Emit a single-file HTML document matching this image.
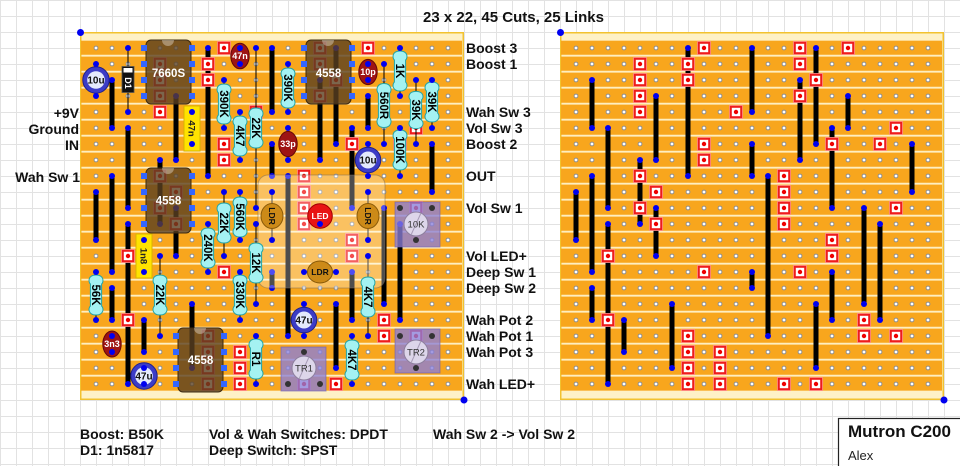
<!DOCTYPE html>
<html><head><meta charset="utf-8"><style>html,body{margin:0;padding:0;background:#fff}svg{display:block;font-family:"Liberation Sans",Arial,sans-serif}</style></head><body>
<svg xmlns="http://www.w3.org/2000/svg" width="960" height="466" viewBox="0 0 960 466">
<defs>
<pattern id="gp" width="16" height="16" patternUnits="userSpaceOnUse"><path d="M0.5 0V16M0 0.5H16" stroke="#e2e2e2" stroke-width="1" fill="none"/></pattern>
<pattern id="st" x="0" y="40.6" width="16" height="16" patternUnits="userSpaceOnUse"><rect width="16" height="14.2" fill="#f8a61d"/></pattern>
<pattern id="ho" x="88" y="40" width="16" height="16" patternUnits="userSpaceOnUse"><circle cx="8" cy="8" r="1.9" fill="#fff" stroke="#8f8f8f" stroke-width="1"/></pattern>
<g id="cut"><rect x="-6.5" y="-6.5" width="13" height="13" fill="#ee1c1c" stroke="#ff8a8a" stroke-width="0.8"/><rect x="-4.2" y="-4.2" width="8.4" height="8.4" fill="#fff"/><circle r="2.2" fill="#e00"/></g>
<path id="res" d="M-5.6,-11 C-8,-13 -8,-20 0,-20 C8,-20 8,-13 5.6,-11 L5.6,11 C8,13 8,20 0,20 C-8,20 -8,13 -5.6,11 Z" fill="#a4f2f2" stroke="#22a3a6" stroke-width="1"/>
<g id="lc">
<path d="M208 48V176M272 48V112M112 80V128M176 96V160M128 128V208M272 144V176M160 160V224M112 176V272M96 192V240M176 208V256M128 224V384M272 272V288M112 288V320M192 304V368M144 320V352M336 48V144M320 80V160M368 96V128M352 128V208M432 144V192M288 176V336M384 208V304M400 224V320M352 272V320M336 304V368" stroke="#000" stroke-width="5" fill="none"/>
<g fill="#0000f0">
<circle cx="208" cy="48" r="3"/><circle cx="208" cy="176" r="3"/><circle cx="272" cy="48" r="3"/><circle cx="272" cy="112" r="3"/><circle cx="112" cy="80" r="3"/><circle cx="112" cy="128" r="3"/><circle cx="176" cy="96" r="3"/><circle cx="176" cy="160" r="3"/><circle cx="128" cy="128" r="3"/><circle cx="128" cy="208" r="3"/><circle cx="272" cy="144" r="3"/><circle cx="272" cy="176" r="3"/><circle cx="160" cy="160" r="3"/><circle cx="160" cy="224" r="3"/><circle cx="112" cy="176" r="3"/><circle cx="112" cy="272" r="3"/><circle cx="96" cy="192" r="3"/><circle cx="96" cy="240" r="3"/><circle cx="176" cy="208" r="3"/><circle cx="176" cy="256" r="3"/><circle cx="128" cy="224" r="3"/><circle cx="128" cy="384" r="3"/><circle cx="272" cy="272" r="3"/><circle cx="272" cy="288" r="3"/><circle cx="112" cy="288" r="3"/><circle cx="112" cy="320" r="3"/><circle cx="192" cy="304" r="3"/><circle cx="192" cy="368" r="3"/><circle cx="144" cy="320" r="3"/><circle cx="144" cy="352" r="3"/><circle cx="336" cy="48" r="3"/><circle cx="336" cy="144" r="3"/><circle cx="320" cy="80" r="3"/><circle cx="320" cy="160" r="3"/><circle cx="368" cy="96" r="3"/><circle cx="368" cy="128" r="3"/><circle cx="352" cy="128" r="3"/><circle cx="352" cy="208" r="3"/><circle cx="432" cy="144" r="3"/><circle cx="432" cy="192" r="3"/><circle cx="288" cy="176" r="3"/><circle cx="288" cy="336" r="3"/><circle cx="384" cy="208" r="3"/><circle cx="384" cy="304" r="3"/><circle cx="400" cy="224" r="3"/><circle cx="400" cy="320" r="3"/><circle cx="352" cy="272" r="3"/><circle cx="352" cy="320" r="3"/><circle cx="336" cy="304" r="3"/><circle cx="336" cy="368" r="3"/>
</g>
<use href="#cut" x="224" y="48"/><use href="#cut" x="320" y="48"/><use href="#cut" x="368" y="48"/>
<use href="#cut" x="160" y="64"/><use href="#cut" x="208" y="64"/><use href="#cut" x="320" y="64"/>
<use href="#cut" x="160" y="80"/><use href="#cut" x="208" y="80"/><use href="#cut" x="336" y="80"/>
<use href="#cut" x="160" y="96"/><use href="#cut" x="320" y="96"/>
<use href="#cut" x="160" y="112"/><use href="#cut" x="256" y="112"/>
<use href="#cut" x="416" y="128"/>
<use href="#cut" x="224" y="144"/><use href="#cut" x="352" y="144"/><use href="#cut" x="400" y="144"/>
<use href="#cut" x="224" y="160"/>
<use href="#cut" x="160" y="176"/><use href="#cut" x="304" y="176"/>
<use href="#cut" x="176" y="192"/><use href="#cut" x="304" y="192"/>
<use href="#cut" x="160" y="208"/><use href="#cut" x="304" y="208"/><use href="#cut" x="416" y="208"/>
<use href="#cut" x="176" y="224"/><use href="#cut" x="304" y="224"/>
<use href="#cut" x="352" y="240"/>
<use href="#cut" x="128" y="256"/><use href="#cut" x="352" y="256"/>
<use href="#cut" x="224" y="272"/><use href="#cut" x="320" y="272"/>
<use href="#cut" x="128" y="320"/><use href="#cut" x="384" y="320"/>
<use href="#cut" x="208" y="336"/><use href="#cut" x="384" y="336"/><use href="#cut" x="416" y="336"/>
<use href="#cut" x="208" y="352"/><use href="#cut" x="240" y="352"/>
<use href="#cut" x="208" y="368"/><use href="#cut" x="240" y="368"/>
<use href="#cut" x="208" y="384"/><use href="#cut" x="240" y="384"/><use href="#cut" x="304" y="384"/><use href="#cut" x="336" y="384"/>
</g>
</defs>

<rect width="960" height="466" fill="#fff"/>
<rect width="960" height="466" fill="url(#gp)"/>

<!-- boards -->
<rect x="80.75" y="32.75" width="382.5" height="366.5" fill="#fef1c6" stroke="#f2c230" stroke-width="1.5"/>
<rect x="81" y="40.6" width="381" height="350.2" fill="url(#st)"/>
<rect x="88" y="40" width="368" height="352" fill="url(#ho)"/>
<rect x="560.75" y="32.75" width="382.5" height="366.5" fill="#fef1c6" stroke="#f2c230" stroke-width="1.5"/>
<rect x="561" y="40.6" width="381" height="350.2" fill="url(#st)"/>
<rect x="568" y="40" width="368" height="352" fill="url(#ho)"/>
<g fill="#0000f0"><circle cx="80.5" cy="32.5" r="3.5"/><circle cx="464" cy="400" r="3.5"/><circle cx="560.5" cy="32.5" r="3.5"/><circle cx="944" cy="400" r="3.5"/></g>

<use href="#lc"/>
<use href="#lc" x="480"/>

<!-- component leads -->
<path d="M128 48V112M256 48V208M256 224V304M256 336V384M224 80V128M224 192V256M240 112V160M240 192V240M240 272V320M288 64V112M400 48V96M400 128V176M384 64V144M416 80V144M432 80V128M208 224V272M96 272V320M160 256V336M352 336V384M368 256V336M272 192V240M368 192V240M304 272H336M96 64V96M368 144V176M304 304V336" stroke="#000" stroke-width="1" fill="none"/>

<!-- vactrol enclosure -->
<rect x="258" y="175" width="127" height="113" rx="10" fill="#fff" fill-opacity="0.3" stroke="#7a6a5a" stroke-opacity="0.5"/>

<!-- resistors -->
<use href="#res" x="224" y="104"/><use href="#res" x="240" y="136"/><use href="#res" x="256" y="128"/>
<use href="#res" x="288" y="88"/><use href="#res" x="400" y="71"/>
<use href="#res" transform="translate(384,105.5) scale(1,1.1)"/>
<use href="#res" transform="translate(416,110) scale(1,0.93)"/>
<use href="#res" x="432" y="102"/><use href="#res" x="400" y="150"/>
<use href="#res" x="240" y="217"/><use href="#res" x="224" y="223"/><use href="#res" x="208" y="248"/>
<use href="#res" x="256" y="263"/><use href="#res" x="96" y="295"/><use href="#res" x="160" y="295"/>
<use href="#res" x="240" y="295"/><use href="#res" x="256" y="359"/><use href="#res" x="352" y="360"/>
<use href="#res" x="368" y="297"/>
<g font-size="11.5" font-weight="bold" fill="#000" text-anchor="middle">
<text transform="translate(224,104) rotate(90)" dy="4">390K</text>
<text transform="translate(240,136) rotate(90)" dy="4">4K7</text>
<text transform="translate(256,128) rotate(90)" dy="4">22K</text>
<text transform="translate(288,88) rotate(90)" dy="4">390K</text>
<text transform="translate(400,71) rotate(90)" dy="4">1K</text>
<text transform="translate(384,105.5) rotate(90)" dy="4">560R</text>
<text transform="translate(416,110) rotate(90)" dy="4">39K</text>
<text transform="translate(432,102) rotate(90)" dy="4">39K</text>
<text transform="translate(400,150) rotate(90)" dy="4">100K</text>
<text transform="translate(240,217) rotate(90)" dy="4">560K</text>
<text transform="translate(224,223) rotate(90)" dy="4">22K</text>
<text transform="translate(208,248) rotate(90)" dy="4">240K</text>
<text transform="translate(256,263) rotate(90)" dy="4">12K</text>
<text transform="translate(96,295) rotate(90)" dy="4">56K</text>
<text transform="translate(160,295) rotate(90)" dy="4">22K</text>
<text transform="translate(240,295) rotate(90)" dy="4">330K</text>
<text transform="translate(256,359) rotate(90)" dy="4">R1</text>
<text transform="translate(352,360) rotate(90)" dy="4">4K7</text>
<text transform="translate(368,297) rotate(90)" dy="4">4K7</text>
</g>

<!-- D1 -->
<rect x="122" y="66.5" width="12" height="26" fill="#111" stroke="#555" stroke-width="0.8"/>
<rect x="123.5" y="68" width="9" height="4.5" fill="#fff"/>
<text transform="translate(128,83) rotate(90)" dy="3" font-size="9" font-weight="bold" fill="#fff" text-anchor="middle">D1</text>

<!-- film caps -->
<rect x="184" y="106" width="16" height="45" fill="#ffe300" stroke="#d9b400" stroke-width="1"/>
<rect x="136" y="234" width="16" height="44" fill="#ffe300" stroke="#d9b400" stroke-width="1"/>
<g font-size="9.5" font-weight="bold" fill="#222" text-anchor="middle">
<text transform="translate(192,128.5) rotate(90)" dy="3.5">47n</text>
<text transform="translate(144,256) rotate(90)" dy="3.5">1n8</text>
</g>

<!-- ceramic caps -->
<g fill="#9e1414" stroke="#650808" stroke-width="1">
<ellipse cx="240" cy="56" rx="9.2" ry="12.8"/>
<ellipse cx="368" cy="72" rx="9.2" ry="12.6"/>
<ellipse cx="288" cy="144" rx="9.2" ry="12.6"/>
<ellipse cx="112" cy="344" rx="9.2" ry="13"/>
</g>
<g font-size="9" font-weight="bold" fill="#fff" text-anchor="middle">
<text x="240" y="59">47n</text><text x="368" y="75">10p</text><text x="288" y="147">33p</text><text x="112" y="347">3n3</text>
</g>

<!-- electrolytics -->
<g fill="#3c3cc6" stroke="#20208a" stroke-width="1">
<circle cx="96" cy="80" r="13.2"/><circle cx="368" cy="160" r="12.8"/><circle cx="304" cy="320" r="12.8"/><circle cx="144" cy="376" r="13.2"/>
</g>
<g fill="#e4e9fc">
<circle cx="96" cy="80" r="8.8"/><circle cx="368" cy="160" r="8.5"/><circle cx="304" cy="320" r="8.5"/><circle cx="144" cy="376" r="8.8"/>
</g>
<g font-size="10" font-weight="bold" fill="#111" text-anchor="middle">
<text x="96" y="83.5">10u</text><text x="368" y="163.5">10u</text><text x="304" y="323.5">47u</text><text x="144" y="379.5">47u</text>
</g>

<!-- LDRs & LED -->
<g fill="#cc8a18" stroke="#8a5a08" stroke-width="1">
<ellipse cx="272" cy="216" rx="11" ry="12.5"/>
<ellipse cx="368" cy="216" rx="11" ry="12.5"/>
<ellipse cx="320" cy="272" rx="12.5" ry="11"/>
</g>
<circle cx="320" cy="216" r="12.3" fill="#e81414" stroke="#a00000"/>
<g font-size="8.5" font-weight="bold" text-anchor="middle">
<text transform="translate(272,216) rotate(90)" dy="3" fill="#111">LDR</text>
<text transform="translate(368,216) rotate(90)" dy="3" fill="#111">LDR</text>
<text x="320" y="275" fill="#111">LDR</text>
<text x="320" y="219" fill="#fff">LED</text>
</g>

<!-- component pins -->
<g fill="#0000f0">
<circle cx="96" cy="64" r="3"/><circle cx="96" cy="96" r="3"/>
<circle cx="128" cy="48" r="3"/><circle cx="128" cy="112" r="3"/>
<circle cx="240" cy="48" r="3"/><circle cx="240" cy="64" r="3"/>
<circle cx="192" cy="112" r="3"/><circle cx="192" cy="144" r="3"/>
<circle cx="224" cy="80" r="3"/><circle cx="224" cy="128" r="3"/>
<circle cx="240" cy="112" r="3"/><circle cx="240" cy="160" r="3"/>
<circle cx="256" cy="48" r="3"/><circle cx="256" cy="208" r="3"/>
<circle cx="288" cy="64" r="3"/><circle cx="288" cy="112" r="3"/>
<circle cx="368" cy="64" r="3"/><circle cx="368" cy="80" r="3"/>
<circle cx="400" cy="48" r="3"/><circle cx="400" cy="96" r="3"/>
<circle cx="384" cy="64" r="3"/><circle cx="384" cy="144" r="3"/>
<circle cx="416" cy="80" r="3"/><circle cx="416" cy="144" r="3"/>
<circle cx="432" cy="80" r="3"/><circle cx="432" cy="128" r="3"/>
<circle cx="400" cy="128" r="3"/><circle cx="400" cy="176" r="3"/>
<circle cx="288" cy="128" r="3"/><circle cx="288" cy="160" r="3"/>
<circle cx="368" cy="144" r="3"/><circle cx="368" cy="176" r="3"/>
<circle cx="144" cy="240" r="3"/><circle cx="144" cy="272" r="3"/>
<circle cx="224" cy="192" r="3"/><circle cx="224" cy="256" r="3"/>
<circle cx="240" cy="192" r="3"/><circle cx="240" cy="240" r="3"/>
<circle cx="208" cy="224" r="3"/><circle cx="208" cy="272" r="3"/>
<circle cx="256" cy="224" r="3"/><circle cx="256" cy="304" r="3"/>
<circle cx="272" cy="192" r="3"/><circle cx="272" cy="240" r="3"/>
<circle cx="320" cy="224" r="3"/>
<circle cx="368" cy="192" r="3"/><circle cx="368" cy="240" r="3"/>
<circle cx="304" cy="272" r="3"/><circle cx="336" cy="272" r="3"/>
<circle cx="96" cy="272" r="3"/><circle cx="96" cy="320" r="3"/>
<circle cx="160" cy="256" r="3"/><circle cx="160" cy="336" r="3"/>
<circle cx="240" cy="272" r="3"/><circle cx="240" cy="320" r="3"/>
<circle cx="112" cy="336" r="3"/><circle cx="112" cy="352" r="3"/>
<circle cx="144" cy="368" r="3"/><circle cx="144" cy="384" r="3"/>
<circle cx="256" cy="336" r="3"/><circle cx="256" cy="384" r="3"/>
<circle cx="304" cy="304" r="3"/><circle cx="304" cy="336" r="3"/>
<circle cx="352" cy="336" r="3"/><circle cx="352" cy="384" r="3"/>
<circle cx="368" cy="256" r="3"/><circle cx="368" cy="336" r="3"/>
</g>

<!-- ICs -->
<g fill="#5a4020" fill-opacity="0.8" stroke="#3e2a10" stroke-width="1">
<rect x="146" y="40" width="45" height="64" rx="5"/>
<rect x="306" y="40" width="45" height="64" rx="5"/>
<rect x="146" y="168" width="45" height="65" rx="5"/>
<rect x="178" y="328" width="45" height="64" rx="5"/>
</g>
<g fill="#fff" fill-opacity="0.35">
<path d="M162 40A6 6 0 0 0 174 40Z"/><path d="M322 40A6 6 0 0 0 334 40Z"/><path d="M162 168A6 6 0 0 0 174 168Z"/><path d="M194 328A6 6 0 0 0 206 328Z"/>
</g>
<g fill="#3366ff">
<rect x="141" y="45" width="6" height="6"/><rect x="141" y="61" width="6" height="6"/><rect x="141" y="77" width="6" height="6"/><rect x="141" y="93" width="6" height="6"/>
<rect x="189" y="45" width="6" height="6"/><rect x="189" y="61" width="6" height="6"/><rect x="189" y="77" width="6" height="6"/><rect x="189" y="93" width="6" height="6"/>
<rect x="301" y="45" width="6" height="6"/><rect x="301" y="61" width="6" height="6"/><rect x="301" y="77" width="6" height="6"/><rect x="301" y="93" width="6" height="6"/>
<rect x="349" y="45" width="6" height="6"/><rect x="349" y="61" width="6" height="6"/><rect x="349" y="77" width="6" height="6"/><rect x="349" y="93" width="6" height="6"/>
<rect x="141" y="173" width="6" height="6"/><rect x="141" y="189" width="6" height="6"/><rect x="141" y="205" width="6" height="6"/><rect x="141" y="221" width="6" height="6"/>
<rect x="189" y="173" width="6" height="6"/><rect x="189" y="189" width="6" height="6"/><rect x="189" y="205" width="6" height="6"/><rect x="189" y="221" width="6" height="6"/>
<rect x="173" y="333" width="6" height="6"/><rect x="173" y="349" width="6" height="6"/><rect x="173" y="365" width="6" height="6"/><rect x="173" y="381" width="6" height="6"/>
<rect x="221" y="333" width="6" height="6"/><rect x="221" y="349" width="6" height="6"/><rect x="221" y="365" width="6" height="6"/><rect x="221" y="381" width="6" height="6"/>
</g>
<g font-size="11.5" font-weight="bold" fill="#fff" text-anchor="middle">
<text x="168.5" y="77">7660S</text><text x="328.5" y="77">4558</text><text x="168.5" y="204.5">4558</text><text x="200.5" y="364">4558</text>
</g>

<!-- trimpots -->
<g fill="#8b7fd9" fill-opacity="0.78" stroke="#6a5cb0" stroke-opacity="0.6">
<rect x="395" y="202" width="45" height="45"/>
<rect x="395" y="329" width="45" height="44"/>
<rect x="281" y="347" width="45" height="44"/>
</g>
<g fill="#333">
<circle cx="400" cy="208" r="3"/><circle cx="432" cy="208" r="3"/><circle cx="416" cy="240" r="3"/>
<circle cx="400" cy="336" r="3"/><circle cx="432" cy="336" r="3"/><circle cx="416" cy="368" r="3"/>
<circle cx="304" cy="352" r="3"/><circle cx="288" cy="384" r="3"/><circle cx="320" cy="384" r="3"/>
</g>
<g fill="#ddd6ea" stroke="#8d7f9e" stroke-width="1">
<circle cx="416" cy="224" r="12"/><circle cx="416" cy="352" r="12"/><circle cx="304" cy="368" r="12"/>
</g>
<g stroke="#a89cb8" stroke-width="1">
<line x1="421" y1="213" x2="411" y2="235"/><line x1="421" y1="341" x2="411" y2="363"/><line x1="309" y1="357" x2="299" y2="379"/>
</g>
<g font-size="9.5" fill="#333" text-anchor="middle">
<text x="416" y="227.5">10K</text><text x="416" y="355.5">TR2</text><text x="304" y="371.5">TR1</text>
</g>

<!-- labels -->
<g font-size="14" font-weight="bold" fill="#111">
<text x="79" y="118" text-anchor="end">+9V</text>
<text x="79" y="134" text-anchor="end">Ground</text>
<text x="79" y="150" text-anchor="end">IN</text>
<text x="80" y="182" text-anchor="end">Wah Sw 1</text>
<text x="466" y="53">Boost 3</text>
<text x="466" y="69">Boost 1</text>
<text x="466" y="117">Wah Sw 3</text>
<text x="466" y="133">Vol Sw 3</text>
<text x="466" y="149">Boost 2</text>
<text x="466" y="181">OUT</text>
<text x="466" y="213">Vol Sw 1</text>
<text x="466" y="261">Vol LED+</text>
<text x="466" y="277">Deep Sw 1</text>
<text x="466" y="293">Deep Sw 2</text>
<text x="466" y="325">Wah Pot 2</text>
<text x="466" y="341">Wah Pot 1</text>
<text x="466" y="357">Wah Pot 3</text>
<text x="466" y="389">Wah LED+</text>
<text x="80" y="439">Boost: B50K</text>
<text x="80" y="455">D1: 1n5817</text>
<text x="209" y="439">Vol &amp; Wah Switches: DPDT</text>
<text x="209" y="455">Deep Switch: SPST</text>
<text x="433" y="439">Wah Sw 2 -&gt; Vol Sw 2</text>
</g>
<text x="423" y="22" font-size="15" font-weight="bold" fill="#111">23 x 22, 45 Cuts, 25 Links</text>

<rect x="838.5" y="418.5" width="130" height="60" fill="#fff" stroke="#222" stroke-width="1.2"/>
<text x="848" y="437" font-size="17" font-weight="bold" fill="#111">Mutron C200</text>
<text x="848" y="460" font-size="13" fill="#222">Alex</text>
</svg>
</body></html>
